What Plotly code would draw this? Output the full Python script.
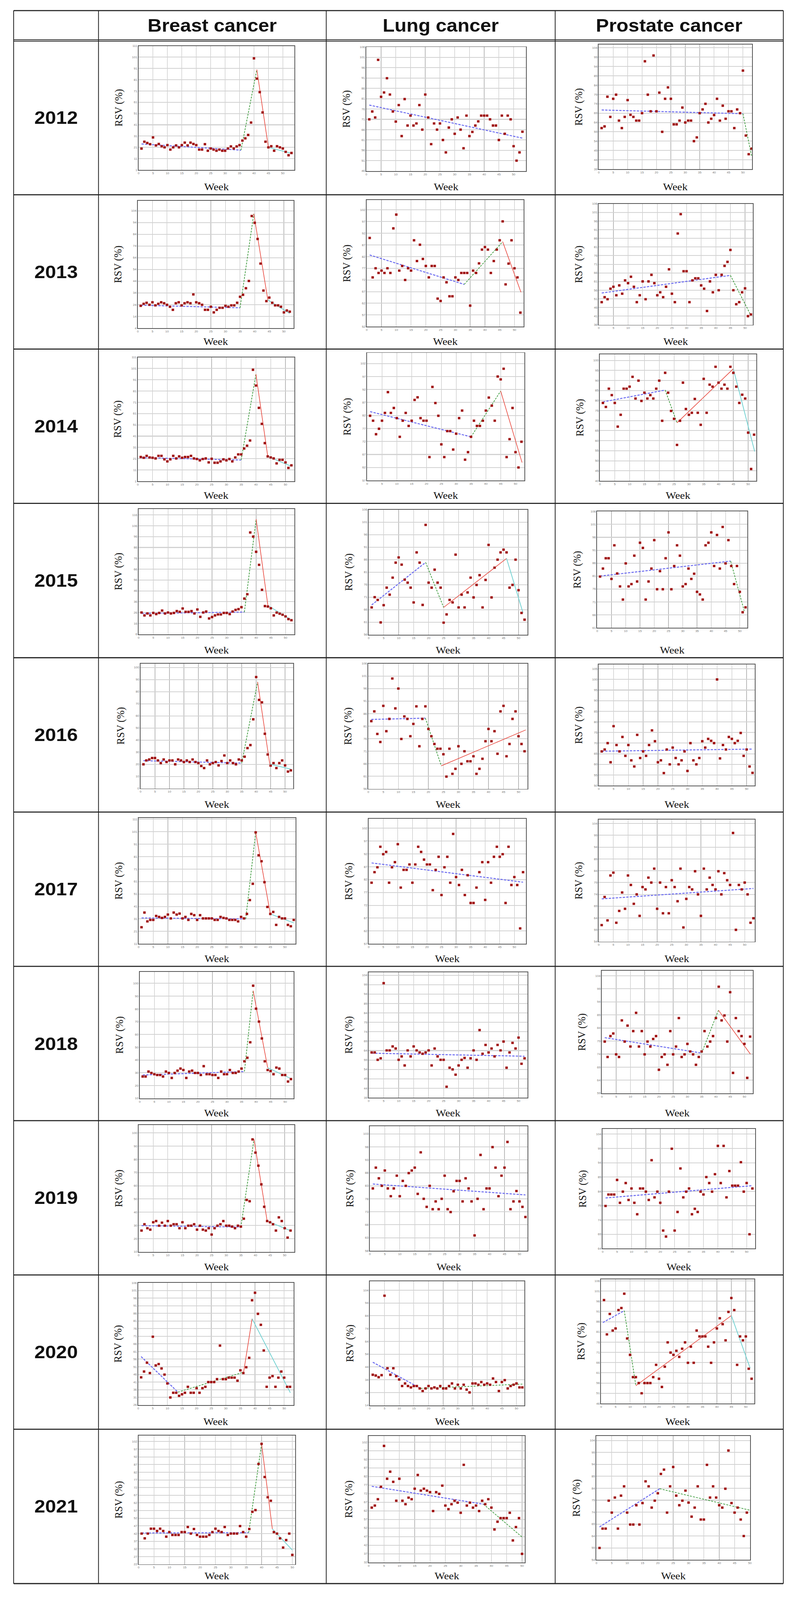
import plotly.graph_objects as go

W, H = 2036, 4380

years = [2012, 2013, 2014, 2015, 2016, 2017, 2018, 2019, 2020, 2021]
headers = ["Breast cancer", "Lung cancer", "Prostate cancer"]
x_tick_vals = [0, 5, 10, 15, 20, 25, 30, 35, 40, 45, 50]

# ---------------- weekly RSV values ----------------
breast_2012 = [19.9, 26, 24.9, 23.8, 29.8, 22.7, 24, 22, 21, 23, 19, 21, 22.7, 21, 23, 25.2, 22.7, 25.2, 24, 23,
               19, 19, 23.8, 18, 20, 19, 18, 19, 18, 18, 20, 21.8, 20, 21.8, 23, 27, 29, 32, 43, 100, 82, 70, 52,
               26, 21, 22, 18, 22, 21, 20, 17, 14, 16]
breast_2013 = [23, 24.7, 25.6, 23.9, 26, 23.4, 24.7, 26, 25.2, 23.9, 22.2, 19.6, 25.2, 26, 23.4, 25.2, 26, 25.2,
               32.7, 26, 25.2, 23.9, 19.6, 19.6, 22.2, 17.4, 19.6, 21.3, 21.3, 23, 22.2, 23.4, 23.4, 25.6, 30.7,
               32.4, 38, 44.2, 99.6, 93.8, 80, 59, 36, 27, 30, 25.6, 23.4, 23.4, 22.2, 17.4, 19, 18]
breast_2014 = [22.5, 21.8, 23.5, 22.1, 21.8, 21.2, 23.5, 23.5, 20.4, 18.6, 20.4, 23.5, 21.2, 23, 21.8, 22.5, 22.5,
               23.5, 21.2, 20.7, 19.5, 20.7, 21.2, 17.7, 20.9, 17.4, 17.4, 18.6, 20.4, 19.5, 20.7, 18.6, 22.1, 24.8,
               24.8, 30, 32.5, 37.1, 99.9, 85.9, 66.1, 51.9, 34.8, 23, 22.1, 21.2, 16.8, 20, 20, 17.7, 12.8, 15.1]
breast_2015 = [26.1, 23.4, 25.2, 23.4, 25.7, 24.6, 25.7, 27.9, 25.2, 26.1, 25.2, 25.7, 27.4, 26.7, 29.8, 26.7, 26.7,
               27.4, 25.2, 28.9, 22.1, 26.1, 27, 20.6, 21.9, 23.4, 24.3, 24.3, 25.7, 25.7, 24.6, 27, 28.5, 29.2, 31,
               38.9, 42.9, 99.8, 96, 82, 70, 47, 32, 31.6, 30, 23.4, 26, 25, 24, 22.5, 20, 19]
breast_2016 = [20, 23.2, 24, 25.2, 25.2, 23.2, 21, 24, 21.9, 23.2, 23.2, 20, 24, 23.2, 21.9, 23.2, 21.9, 24, 21.9,
               21, 18.6, 16.9, 23.2, 20, 21, 21.9, 19.1, 22.7, 27.3, 21, 23.2, 21, 20, 24, 23.2, 26.3, 33.4, 35.9,
               57.2, 92.1, 73.2, 71.2, 45.2, 28.1, 18.9, 21, 16.9, 21, 23.2, 19.1, 14, 15]
breast_2017 = [24.3, 36.1, 29, 30.2, 30.2, 33.4, 32.6, 31.8, 32.6, 34.5, 31.4, 36.1, 34.5, 35.3, 31.4, 32.6, 30.2,
               35, 34, 30.2, 34, 31.4, 31.4, 31.4, 31.4, 30.2, 30.2, 32.6, 31.8, 31.4, 30.2, 30.2, 30.2, 29, 32.6,
               31.4, 35, 46.1, 59.2, 100.5, 82.1, 77.3, 60.5, 40.6, 35, 36.6, 26.2, 32.6, 31.4, 31.4, 26.2, 25.1, 30.2]
breast_2018 = [27.1, 27.1, 31, 29.9, 28.9, 28.3, 28.3, 27.1, 31, 29.9, 26, 29.9, 31.7, 33.3, 32.2, 26, 31, 31.7,
               29.9, 29.9, 28.3, 35.2, 28.9, 28.9, 28.3, 28.3, 26, 31, 28.9, 28.9, 32.2, 29.9, 29.9, 31, 33.3, 39,
               41.8, 53.9, 98.2, 80.2, 70.1, 56.9, 39, 32.2, 31.4, 28.9, 34.1, 33.3, 28.3, 28.3, 23.2, 25.1]
breast_2019 = [26.1, 30.9, 27.9, 26.8, 32.4, 33.3, 29.8, 32.1, 29.8, 33.3, 29.8, 30.9, 30.9, 27.9, 32.4, 27.9, 29.8,
               29.8, 30.9, 26.8, 29.8, 26.8, 26.1, 27.9, 23.1, 27.9, 29.8, 30.9, 33.3, 29.8, 29.8, 29.1, 27.9, 29.8,
               29.1, 35.1, 49.3, 48.3, 95.1, 85.1, 75.2, 61.1, 44.1, 33.3, 32.4, 30.9, 26.1, 36.1, 33.3, 27.9, 20.8, 26.1]
breast_2020 = [44.1, 47.9, 53.7, 46.9, 70.7, 51.9, 52.8, 49.9, 45.9, 40.1, 30.9, 34, 34, 32, 33, 34, 37.9, 34, 34,
               37, 34, 37, 37.9, 41, 41, 41, 42.9, 64.9, 42.9, 42.9, 43.9, 43.9, 43.9, 41.9, 48.7, 46.9, 50.7, 56.9,
               94.6, 99.5, 85.7, 78.5, 61.7, 37.9, 43.9, 44.9, 37.9, 43.9, 47.9, 43.9, 37.9, 37.9]
breast_2021 = [42, 38.9, 42, 45.2, 45.2, 43.7, 45.2, 43.7, 40, 43, 41.1, 41.1, 41.1, 43, 43, 46.3, 42, 45, 41.1, 40,
               40, 40, 41.1, 43, 45.2, 43.7, 43, 46.3, 41.1, 42, 42, 42, 46.9, 43, 40, 45, 56.2, 57.3, 87.4, 100.5,
               78.9, 65.7, 63.4, 43, 42, 38.9, 32.9, 37.8, 42, 28.1]

lung_2012 = [71, 74.8, 71.9, 99.8, 81.9, 84, 90.9, 83, 74.8, 69.9, 77.9, 62.9, 80.8, 68, 72.8, 68, 69, 77.9, 66, 83,
             71.9, 59, 69, 66, 69, 61, 55, 67, 71, 64, 71.9, 66, 57, 72.8, 62.9, 64.9, 68, 70, 72.8, 72.8, 72.8, 71,
             68, 68, 61, 72.8, 64, 72.8, 71, 58, 51, 55, 65]
lung_2013 = [90, 73.1, 77, 75, 76, 75, 77, 75, 94.1, 100, 76, 78, 72, 77, 76, 89, 80.1, 87.1, 81, 78, 73.1, 78, 78,
             64, 63, 73.1, 71, 65, 65, 73.1, 72, 75, 75, 75, 61, 76, 75, 79.1, 85, 86.1, 85, 75, 80.1, 85, 89, 97.1,
             70.1, 79, 89, 77, 73.1, 58]
lung_2014 = [81.9, 80, 74.8, 76.9, 80, 83, 91, 83, 84.9, 81, 73.8, 80, 83, 78, 80, 88, 89, 81, 80, 80, 66, 93, 86.8,
             81.9, 70.9, 66, 76, 76, 68.9, 75, 81, 83.9, 65, 67.9, 73.8, 80, 78, 78, 80, 83.9, 88.9, 85.8, 80, 97,
             95.9, 100, 66, 72.9, 84.9, 67.9, 62, 71.9]
lung_2015 = [66.9, 71, 69.9, 60.9, 67.8, 74.8, 72, 78.8, 84.8, 86.9, 84, 78, 76.8, 74.8, 68.9, 88.9, 84.8, 67.9,
             99.9, 76.8, 74.8, 82, 76.8, 74.8, 60.8, 64.1, 69.9, 68.9, 88, 66.9, 72, 66.9, 72.9, 78.8, 70.9, 75.9,
             79.8, 66.9, 77.9, 91.9, 70.9, 82.8, 86, 88.9, 90, 88.9, 74.8, 75.9, 86, 73.8, 64.7, 62]
lung_2016 = [83, 86.9, 77.9, 74.7, 89.1, 79, 83.9, 100, 88.1, 96, 75.9, 84.9, 83.9, 77, 81.9, 88.9, 73, 83.9, 88.9,
             79.9, 77, 73.9, 72, 72, 69.8, 60.9, 72, 62, 64, 73, 66, 71, 67, 67, 69, 62, 64, 68, 75, 79.9, 75, 79,
             70, 86.9, 89.1, 69, 73.9, 83.9, 86.9, 77, 73.9, 71]
lung_2017 = [80.8, 84.9, 86.8, 94.8, 91.9, 92.8, 80.8, 86.8, 88.8, 95.8, 78.9, 85.8, 85.8, 87.9, 80.8, 87.9, 94.8,
             92.8, 89.8, 87.9, 87.9, 77.9, 85.8, 90.9, 76, 86.8, 90.9, 80.8, 99.8, 83, 79.9, 85.8, 76, 83.7, 72.9,
             72.9, 78.9, 84.9, 88.8, 74.1, 88.8, 80.8, 90.9, 94.8, 90.9, 91.9, 72.9, 94.8, 79.9, 83, 79.9, 63, 84.9]
lung_2018 = [63, 63, 59.1, 59.9, 99.8, 64.1, 64.1, 66.2, 65.1, 59.1, 60.9, 56.1, 64.1, 60.9, 66.2, 64.1, 63, 62.3,
             63, 64.1, 56.1, 65.1, 60.9, 59.1, 59.1, 44.8, 54.9, 54, 51.2, 56.1, 59.1, 60.1, 54.9, 59.9, 64.1, 59.1,
             74.9, 62.3, 67, 63, 65.1, 60.9, 67, 64.1, 68.8, 54.9, 63, 68.1, 65.1, 70.9, 57, 59.9]
lung_2019 = [82, 90, 85.9, 83, 88.9, 82, 79, 82, 86.9, 79, 84.9, 83, 87.9, 88.9, 90, 79.9, 95.9, 78, 74.9, 83, 74,
             77, 74, 78, 86.9, 74, 72.9, 80.9, 84.9, 84.9, 77, 85.9, 82, 77, 63.9, 78, 94.9, 74, 82, 82, 97.9, 90,
             79, 86.9, 90, 99.9, 74, 77, 81, 77, 74.9, 71]
lung_2020 = [37.9, 37.3, 36, 37.6, 99.7, 43, 37.9, 43, 36.8, 34.2, 29.1, 31.1, 29.1, 28, 29.1, 29.1, 27.2, 25.2,
             27.2, 29.1, 27.2, 28, 27.2, 29.1, 27.2, 27.2, 29.1, 31.1, 27.2, 30.1, 27.2, 30.1, 26.3, 24.1, 31.1,
             31.1, 30.1, 32.2, 30.1, 31.1, 30.1, 35, 32.2, 25.2, 32.2, 33.7, 27.2, 29.1, 30.1, 31.1, 28, 28]
lung_2021 = [63.9, 65.1, 68.8, 76, 99.8, 80.7, 84.8, 78.9, 67.9, 80.7, 67.9, 65.9, 69.7, 68.8, 74.9, 82.9, 73.8,
             74.9, 73.8, 72.9, 61.9, 72.9, 71.9, 76.7, 65.1, 63, 65.9, 67.9, 66.8, 60.9, 88.8, 65.1, 66.8, 63.9,
             65.1, 61.9, 67.9, 65.9, 68.8, 63.9, 51.2, 55.7, 57.8, 57.8, 57.8, 60.9, 44.8, 52.6, 57.8, 37]

prostate_2012 = [61, 61.9, 77.8, 67, 76.7, 78.9, 65, 61, 67, 76, 68.1, 67, 65, 65, 69, 96.8, 78.9, 70, 99.9, 70, 80,
                 59, 76.7, 82.8, 76.7, 63, 63, 65, 72, 64, 65, 65, 54, 56, 69, 71, 74, 64, 66, 68, 76.7, 65, 73, 66,
                 70, 70, 61, 71, 69, 91.8, 57, 47, 50]
prostate_2013 = [49.1, 52, 50.8, 56.9, 58, 53.1, 58.8, 54, 61.7, 60.1, 63.8, 58, 49.1, 53.1, 61.1, 50.8, 61.1, 64.9,
                 60.1, 53.1, 54.8, 52, 58, 68.1, 54, 49.1, 88.8, 100, 67, 67, 49.1, 61.7, 62.9, 62.9, 58.8, 56.9, 44,
                 61.1, 54.8, 64.9, 56, 64.9, 70.1, 72.4, 79.3, 56, 47.9, 49.1, 54.8, 57.1, 41, 42]
prostate_2014 = [78.8, 76.8, 85.9, 82.7, 78.8, 67, 72.9, 85.9, 85.9, 86.9, 91.8, 81, 89.9, 79.8, 83.9, 81, 82.7, 81,
                 85.9, 89.9, 69.9, 93.8, 83.9, 74.8, 70.9, 57.9, 69.9, 88.9, 75.8, 72.9, 73.9, 80.8, 73.9, 67.9, 90.8,
                 73.9, 87.9, 86.9, 96.8, 88.9, 85.9, 87.9, 85.9, 96.8, 93.8, 86.9, 78.8, 82.9, 81, 64, 45.9, 63]
prostate_2015 = [80.8, 83.9, 87.9, 87.9, 79.9, 92.9, 82, 77, 71.9, 85.9, 77, 77.9, 88.9, 78.9, 93.9, 91.9, 71.9,
                 78.9, 83.9, 94.9, 75.9, 82.9, 75.9, 87.9, 97.9, 75.9, 84.9, 92.9, 88.9, 77, 77.9, 83.9, 79.9, 81.9,
                 74.9, 73.9, 71.9, 92.9, 93.9, 97.9, 84.9, 96.9, 83.9, 100, 85.9, 94.9, 84.9, 77.9, 84.9, 74.9, 67,
                 68.9]
prostate_2016 = [66.1, 67, 70, 61, 78, 69.1, 66.1, 72.9, 64, 69.1, 61.9, 59, 73.9, 63, 66.1, 64, 69.1, 76, 70.9, 61,
                 61.9, 55.9, 67, 60, 67.9, 63, 60, 61.9, 66.1, 56.9, 70, 61.9, 60, 63, 70.9, 67.9, 72, 71.1, 70, 100,
                 62.8, 69.1, 67, 72.9, 72, 70, 71.1, 74.8, 64, 67, 59, 56]
prostate_2017 = [61, 72.9, 63, 82, 83.2, 62, 67, 74.8, 67.9, 82, 78, 70, 74, 64.9, 77.1, 76.1, 81.1, 79, 84.9, 67.9,
                 79, 66, 77.1, 66, 80, 77.1, 71.1, 84.9, 60, 72.1, 77.1, 76.1, 83.8, 74, 64.9, 84.9, 76.1, 81.1, 78,
                 76.1, 83.8, 74, 83, 80, 78, 100, 59, 78, 76.1, 79, 74, 62, 63.9]
prostate_2018 = [78.8, 72.9, 80.9, 81.9, 73.9, 72.9, 86.9, 78.8, 84.9, 76.9, 82.8, 89.8, 76.9, 82.8, 73.9, 78.8,
                 76.9, 79.8, 80.9, 68, 72.9, 73.9, 69.9, 82.8, 73.9, 76.9, 87.8, 72.9, 73.9, 77.9, 75, 73.9, 69.9,
                 72.9, 75, 82.8, 76.9, 78.8, 80.9, 87.8, 99.8, 86.9, 88.8, 78.8, 97.7, 66.8, 87.8, 82.8, 80.9, 77.9,
                 64.9, 80.7]
prostate_2019 = [78.9, 82.9, 82.9, 82.9, 88, 80, 83.9, 86.9, 81, 85, 80, 76, 85, 85, 83.9, 81, 94.9, 81.9, 83.9, 80,
                 70.3, 68.2, 83.9, 98.9, 70.3, 76.8, 92, 81.9, 83.9, 85, 76, 77.9, 76.8, 83.9, 82.9, 89, 86.9, 83.9,
                 90, 99.9, 86.9, 99.9, 81.9, 91.1, 86, 86, 86, 94.2, 83.9, 86.9, 69, 85]
prostate_2020 = [96.6, 79.8, 89.8, 81.7, 82.7, 91.7, 92.7, 99.7, 77.8, 69.8, 58.9, 58.9, 56, 51, 56, 56, 56, 58.9,
                 64.9, 58.1, 54.1, 64, 75.9, 70.9, 69.8, 71.8, 68.8, 72.8, 75.9, 65.9, 73.8, 65.9, 81.7, 78.8, 78.8,
                 78.8, 73.8, 65.9, 75.9, 82.7, 87.7, 84.8, 76.9, 90.8, 97.6, 91.7, 64.9, 78.8, 76.9, 78.8, 63, 58.1]
prostate_2021 = [59, 67.1, 67.1, 78.8, 73.8, 80.1, 67.1, 80.9, 84.8, 73.8, 68.8, 68.8, 76.9, 68.8, 77.8, 86.9, 84.8,
                 75.9, 78.8, 81.9, 90, 91.8, 73.8, 84.8, 92.9, 80.9, 76.9, 78.8, 83, 78, 72.1, 75.9, 84.8, 70.9, 70.9,
                 93.8, 80.1, 84.8, 80.1, 76.9, 75.9, 83.8, 99.8, 77.8, 73.8, 75.9, 70.9, 64, 73.8]

# ---------------- joinpoint trend lines (week, RSV at each joint) ----------------
breast_jx = [[1, 35.5, 41, 45, 53], [1, 35, 39.7, 44.5, 52], [1, 35, 40, 44, 52], [1, 36, 40, 44, 52],
             [1, 35, 40.5, 44.7, 52], [1, 36.6, 40, 45, 53], [1, 36, 39, 44, 52], [1, 35, 39.5, 44, 52],
             [1, 13.6, 36.1, 39, 52.1], [1, 35.8, 40, 43.5, 50]]
breast_jy = [[24, 18.5, 90, 21, 15.7], [23.5, 21.3, 101.5, 28, 16.5], [21.9, 19.8, 96, 23, 14.2],
             [25.2, 26.5, 112, 32.5, 19.3], [23, 21, 88, 20.2, 16], [31.8, 31, 100.5, 35, 27.8],
             [28.3, 31, 94.3, 34, 25.5], [29.8, 28.8, 95.1, 33.3, 26], [57.7, 34.4, 47.5, 82.5, 34],
             [42.4, 42.6, 100.5, 45, 31.3]]
lung_jx = [[1, 53], [1, 33, 46, 52.2], [1, 35, 45, 52.2], [1, 19, 25, 46, 51.5], [1, 19, 24.3, 52.4],
           [1, 53], [1, 52], [1, 52], [1, 17.3, 52], [1, 37.4, 50]]
lung_jy = [[77.9, 61.9], [82.7, 70.1, 88.4, 66.7], [83.5, 73.8, 91.4, 63.9], [67.9, 84.9, 66.9, 86.5, 64.7],
           [83.7, 84.2, 65.2, 79.5], [88.5, 81], [62.6, 61], [83.7, 79.5], [47.7, 27.2, 30.6], [76.3, 65.9, 46.8]]
prostate_jx = [[1, 50, 53], [1, 45, 52], [1, 22, 26, 45, 52.2], [1, 46.8, 51.6], [1, 52], [1, 53],
               [1, 35, 40.9, 52.1], [1, 52], [0.6, 8, 12, 45, 51.5], [1, 20.6, 50]]
prostate_jy = [[70.7, 68.7, 46], [54.4, 64.6, 41.4], [79.3, 85.2, 68.9, 95.8, 54.6], [81, 86.8, 67.3],
               [66.2, 67.2], [72.1, 76.5], [80.3, 74.4, 90.8, 74], [81.7, 86], [85.6, 91.4, 54.7, 89, 63.3],
               [67.8, 83.8, 74.8]]

# ---------------- y tick labels: first label and step ----------------
breast_ytick0 = [1, 4, 1, 6, 0, 11, 10, 10, 26, 22]
breast_ydtick = [10, 10, 10, 10, 10, 10, 10, 10, 5, 5]
lung_ytick0 = [46, 52, 57, 56, 56, 57, 39, 58, 14, 32]
lung_ydtick = [5, 5, 5, 5, 5, 5, 5, 5, 10, 5]
prostate_ytick0 = [39, 36, 40, 61, 50, 54, 59, 64, 46, 54]
prostate_ydtick = [5, 5, 5, 5, 5, 5, 5, 5, 5, 5]

series = {
    "breast": [breast_2012, breast_2013, breast_2014, breast_2015, breast_2016,
               breast_2017, breast_2018, breast_2019, breast_2020, breast_2021],
    "lung": [lung_2012, lung_2013, lung_2014, lung_2015, lung_2016,
             lung_2017, lung_2018, lung_2019, lung_2020, lung_2021],
    "prostate": [prostate_2012, prostate_2013, prostate_2014, prostate_2015, prostate_2016,
                 prostate_2017, prostate_2018, prostate_2019, prostate_2020, prostate_2021],
}
joints = {"breast": (breast_jx, breast_jy), "lung": (lung_jx, lung_jy), "prostate": (prostate_jx, prostate_jy)}
yticks = {"breast": (breast_ytick0, breast_ydtick), "lung": (lung_ytick0, lung_ydtick),
          "prostate": (prostate_ytick0, prostate_ydtick)}

# ---------------- layout (pixel boxes of each small chart, axis extents) ----------------
box = {
    "breast": [(354, 754, 122, 462), (352, 752, 547, 896), (352, 754, 976, 1316), (354, 754, 1392, 1736),
               (359, 751, 1816, 2159), (354, 757, 2240, 2585), (357, 752, 2662, 3009), (354, 754, 3082, 3430),
               (353, 752, 3515, 3850), (354, 756, 3934, 4287)],
    "lung": [(939, 1349, 125, 465), (940, 1343, 545, 892), (941, 1345, 964, 1314), (945, 1353, 1394, 1737),
             (944, 1353, 1816, 2160), (945, 1349, 2242, 2585), (945, 1353, 2663, 3007), (948, 1353, 3085, 3427),
             (948, 1345, 3511, 3851), (945, 1346, 3935, 4282)],
    "prostate": [(1536, 1930, 118, 460), (1536, 1932, 555, 887), (1539, 1941, 968, 1315),
                 (1532, 1918, 1399, 1718), (1536, 1937, 1819, 2151), (1536, 1937, 2244, 2579),
                 (1544, 1932, 2659, 2995), (1546, 1938, 3093, 3421), (1542, 1936, 3505, 3846),
                 (1530, 1925, 3935, 4275)],
}
xmax = {
    "breast": [54, 53.3, 53, 53, 52.8, 53.6, 52.9, 53.3, 53.2, 50.9],
    "lung": [54.2, 53.1, 53, 53, 53, 54, 53, 52.7, 52.7, 50.9],
    "prostate": [53.2, 52.7, 52.8, 52.7, 52.8, 53.5, 53, 53, 53, 50.1],
}
ytop = {
    "breast": [111, 112.5, 111, 121.5, 103.3, 112, 109, 106, 106, 105.9],
    "lung": [106, 106.2, 106.1, 106, 106, 105.7, 105.6, 106, 110.9, 105.6],
    "prostate": [105.8, 106, 103, 106, 107, 105.7, 105.9, 105.8, 106.8, 105.9],
}

TABLE_L, TABLE_R, TABLE_T, TABLE_B = 33, 2010, 25, 4340
COL_X = [33, 251, 836, 1424, 2010]
HEADER_B = 107
ROW_H = (TABLE_B - HEADER_B) / 10

seg_colors = ["#6b6bf0", "#3a993a", "#e8463c", "#74d2d2"]
seg_widths = [2.6, 1.8, 1.6, 2.0]
seg_dash = ["6px,3px", "5px,3px", "solid", "solid"]
MARKER = "#9a0a0a"


def fx(px):
    return px / W


def fy(py):
    return 1 - py / H


fig = go.Figure()
layout_axes = {}
annotations = []
shapes = []

n = 0
for c, key in enumerate(["breast", "lung", "prostate"]):
    for r, yr in enumerate(years):
        n += 1
        xa, ya = ("x", "y") if n == 1 else (f"x{n}", f"y{n}")
        xk, yk = ("xaxis", "yaxis") if n == 1 else (f"xaxis{n}", f"yaxis{n}")
        vals = series[key][r]
        weeks = list(range(1, len(vals) + 1))
        jx, jy = joints[key][0][r], joints[key][1][r]
        for s in range(len(jx) - 1):
            fig.add_trace(go.Scatter(x=jx[s:s + 2], y=jy[s:s + 2], mode="lines",
                                     line=dict(color=seg_colors[s], width=seg_widths[s], dash=seg_dash[s]),
                                     xaxis=xa, yaxis=ya, hoverinfo="skip"))
        fig.add_trace(go.Scatter(x=weeks, y=vals, mode="markers",
                                 marker=dict(symbol="square", size=6, color=MARKER,
                                             line=dict(width=0.6, color="#c04040")),
                                 xaxis=xa, yaxis=ya, hoverinfo="skip"))
        L, R, T, B = box[key][r]
        t0, dt = yticks[key][0][r], yticks[key][1][r]
        top = ytop[key][r]
        yvals = []
        v = t0
        while v <= top + 1e-9:
            yvals.append(v)
            v += dt
        common = dict(showline=True, mirror=True, linecolor="#555555", linewidth=2, zeroline=False,
                      ticks="", tickfont=dict(family="Liberation Sans, Arial", size=8, color="#777777"),
                      fixedrange=True)
        layout_axes[xk] = dict(domain=[fx(L), fx(R)], range=[0, xmax[key][r]], anchor=ya,
                               tickmode="array", tickvals=x_tick_vals, ticktext=[str(t) for t in x_tick_vals],
                               showgrid=True, gridcolor="#b9b9b9", gridwidth=1.2, **common)
        layout_axes[yk] = dict(domain=[fy(B), fy(T)], range=[t0, top], anchor=xa,
                               tickmode="array", tickvals=yvals, ticktext=[f"{t:g}" for t in yvals],
                               showgrid=True, gridcolor="#d2d2d2", gridwidth=2.2, **common)
        row_top = HEADER_B + r * ROW_H
        annotations.append(dict(text="RSV (%)", x=fx(L - 52), y=fy((T + B) / 2), xref="paper", yref="paper",
                                showarrow=False, textangle=-90, xanchor="center", yanchor="middle",
                                font=dict(family="Liberation Serif, Times New Roman", size=28, color="#111111")))
        annotations.append(dict(text="Week", x=fx((L + R) / 2), y=fy(row_top + 402), xref="paper", yref="paper",
                                showarrow=False, xanchor="center", yanchor="middle",
                                font=dict(family="Liberation Serif, Times New Roman", size=28, color="#111111")))

# headers and year labels
for i, h in enumerate(headers):
    annotations.append(dict(text=f"<b>{h}</b>", x=fx((COL_X[i + 1] + COL_X[i + 2]) / 2), y=fy(66),
                            xref="paper", yref="paper", showarrow=False, xanchor="center", yanchor="middle",
                            font=dict(family="Liberation Sans, Arial", size=50, color="#111111")))
for r, yr in enumerate(years):
    annotations.append(dict(text=f"<b>{yr}</b>", x=fx(142), y=fy(HEADER_B + r * ROW_H + ROW_H / 2),
                            xref="paper", yref="paper", showarrow=False, xanchor="center", yanchor="middle",
                            font=dict(family="Liberation Sans, Arial", size=50, color="#111111")))


# table lines
def hline(py, w=3, color="#222222"):
    shapes.append(dict(type="line", xref="paper", yref="paper", x0=fx(TABLE_L), x1=fx(TABLE_R),
                       y0=fy(py), y1=fy(py), line=dict(color=color, width=w)))


hline(TABLE_T, 3)
hline(HEADER_B - 2, 2)
hline(HEADER_B + 2, 2)
for r in range(1, 10):
    hline(HEADER_B + r * ROW_H, 3)
hline(TABLE_B, 3)
for xp in COL_X:
    shapes.append(dict(type="line", xref="paper", yref="paper", x0=fx(xp), x1=fx(xp),
                       y0=fy(TABLE_T), y1=fy(TABLE_B), line=dict(color="#222222", width=2)))

fig.update_layout(width=W, height=H, margin=dict(l=0, r=0, t=0, b=0), autosize=False,
                  paper_bgcolor="white", plot_bgcolor="white", showlegend=False,
                  annotations=annotations, shapes=shapes, **layout_axes)

# keep the whole figure inside the visible window if the viewport is smaller than the figure
fit_script = (
    "var gd=document.getElementById('{plot_id}');"
    "document.body.style.margin='0px';"
    "document.documentElement.style.overflow='hidden';document.body.style.overflow='hidden';"
    "var sx=Math.min(1, window.innerWidth/" + str(W) + ");"
    "var sy=Math.min(1, window.innerHeight/" + str(H) + ");"
    "if(sx<0.999||sy<0.999){gd.style.transformOrigin='0 0';"
    "gd.style.transform='scale('+sx+','+sy+')';}"
)

fig.write_html("out.html", config={"displayModeBar": False, "staticPlot": True}, post_script=fit_script)
